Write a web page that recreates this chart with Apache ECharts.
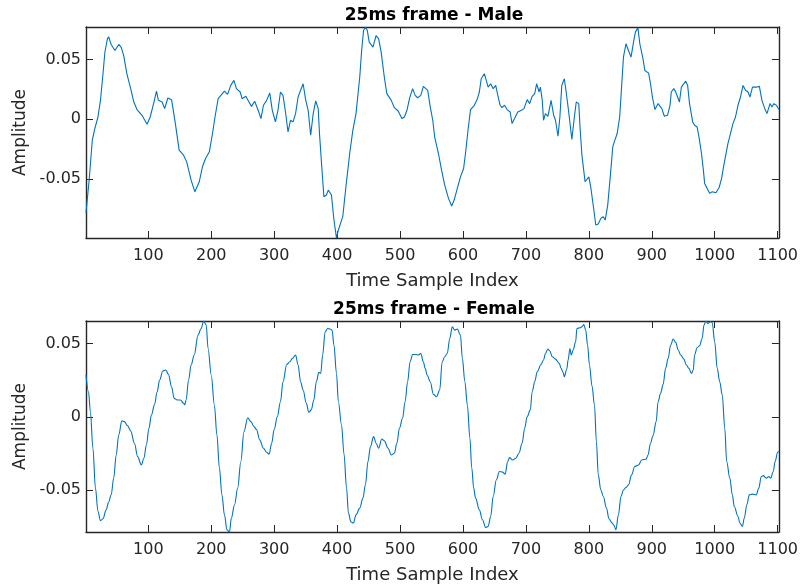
<!DOCTYPE html>
<html>
<head>
<meta charset="utf-8">
<title>25ms frames</title>
<script src="https://cdn.jsdelivr.net/npm/echarts@6/dist/echarts.min.js"></script>
<style>
  html, body { margin: 0; padding: 0; background: #ffffff; }
  #chart { width: 801px; height: 586px; }
</style>
</head>
<body>
<div id="chart"></div>
<script>
// Male frame: sample index / amplitude
const maleIdx = [
  1, 6, 11, 15, 20, 24, 28, 31, 35, 37,
  41, 47, 53, 57, 61, 66, 72, 77, 82, 90,
  98, 103, 109, 113, 116, 122, 126, 131, 137, 143,
  149, 156, 161, 168, 174, 181, 186, 191, 197, 202,
  206, 211, 221, 226, 231, 236, 240, 246, 249, 255,
  260, 264, 269, 275, 279, 283, 288, 293, 297, 302,
  306, 310, 314, 318, 322, 326, 330, 334, 338, 342,
  346, 350, 354, 358, 362, 366, 370, 372, 376, 379,
  383, 386, 391, 395, 399, 402, 409, 414, 420, 425,
  430, 436, 439, 442, 445, 448, 451, 457, 462, 466,
  470, 475, 479, 486, 491, 497, 503, 507, 511, 515,
  520, 524, 528, 533, 537, 540, 544, 548, 552, 555,
  561, 566, 571, 577, 582, 586, 591, 596, 601, 604,
  608, 612, 618, 623, 626, 629, 634, 640, 644, 648,
  652, 656, 659, 662, 666, 670, 675, 678, 682, 687,
  693, 697, 702, 706, 710, 714, 717, 721, 723, 726,
  728, 731, 735, 740, 744, 747, 751, 754, 757, 761,
  764, 768, 773, 777, 780, 784, 786, 789, 794, 800,
  803, 808, 811, 815, 819, 823, 826, 830, 834, 838,
  841, 845, 849, 852, 855, 859, 863, 867, 871, 874,
  878, 881, 886, 889, 895, 898, 901, 905, 910, 916,
  920, 925, 929, 931, 935, 938, 944, 947, 950, 954,
  957, 960, 965, 968, 972, 975, 979, 982, 984, 988,
  992, 996, 1002, 1007, 1011, 1014, 1017, 1021, 1025, 1029,
  1033, 1037, 1041, 1045, 1049, 1053, 1056, 1060, 1063, 1067,
  1071, 1075, 1079, 1083, 1088, 1091, 1094, 1098, 1102
];
const maleAmp = [
  -0.078, -0.051, -0.0175, -0.0078, 0.0019, 0.0158, 0.038, 0.056, 0.0672, 0.069,
  0.0625, 0.0575, 0.0625, 0.060, 0.053, 0.038, 0.0256, 0.0144, 0.0081, 0.0033,
  -0.0042, 0.0019, 0.0144, 0.0236, 0.0158, 0.0144, 0.0089, 0.0178, 0.0164, -0.0036,
  -0.0258, -0.030, -0.0356, -0.0508, -0.0606, -0.0522, -0.0397, -0.0328, -0.0272, -0.0119,
  0.0019, 0.0172, 0.0236, 0.0208, 0.0283, 0.0325, 0.0256, 0.0228, 0.0172, 0.0192,
  0.0144, 0.0108, 0.0150, 0.0069, 0.0006, 0.0117, 0.0158, 0.0219, 0.0075, -0.0022,
  0.0075, 0.0228, 0.0200, 0.0061, -0.0106, -0.0008, -0.0022, 0.0047, 0.0186, 0.0242,
  0.0297, 0.0164, 0.0075, -0.0133, 0.0047, 0.0153, 0.0089, -0.0119, -0.0425, -0.0647,
  -0.0633, -0.0592, -0.0633, -0.0842, -0.0992, -0.0925, -0.0814, -0.0564, -0.0286, -0.0092,
  0.0047, 0.0353, 0.0575, 0.0742, 0.0771, 0.0742, 0.0644, 0.0603, 0.070, 0.0672,
  0.0561, 0.0353, 0.0214, 0.0158, 0.0097, 0.0069, 0.0006, 0.0019, 0.0075, 0.0172,
  0.0256, 0.0200, 0.018, 0.0200, 0.0275, 0.0283, 0.0242, 0.0103, -0.0008, -0.0147,
  -0.0286, -0.0425, -0.055, -0.0661, -0.0725, -0.0675, -0.0578, -0.0481, -0.0411, -0.0286,
  -0.0092, 0.0081, 0.0117, 0.0172, 0.0228, 0.0339, 0.0381, 0.0269, 0.0297, 0.0256,
  0.0283, 0.0186, 0.0117, 0.0097, 0.0117, 0.0081, 0.0061, -0.0036, 0.0006, 0.0061,
  0.0075, 0.0089, 0.0164, 0.0131, 0.0192, 0.0214, 0.0297, 0.0228, 0.0269, 0.0158,
  -0.0008, 0.0047, 0.0025, 0.0158, 0.0036, -0.0008, -0.0142, 0.0019, 0.0283, 0.0339,
  0.0228, 0.0061, -0.0169, 0.0019, 0.0144, 0.0131, -0.0064, -0.030, -0.0522, -0.0481,
  -0.0564, -0.076, -0.0883, -0.0875, -0.0828, -0.0814, -0.0842, -0.0717, -0.0481, -0.0231,
  -0.0181, -0.0119, 0.0019, 0.0269, 0.0519, 0.0631, 0.0575, 0.0519, 0.0644, 0.0728,
  0.0764, 0.0631, 0.0506, 0.0408, 0.0386, 0.0297, 0.0186, 0.0081, 0.0131, 0.0089,
  0.0025, 0.0033, 0.0117, 0.0228, 0.0256, 0.0228, 0.0144, 0.0269, 0.0283, 0.0319,
  0.0283, 0.0131, -0.0022, -0.005, -0.0064, -0.0147, -0.0286, -0.0425, -0.0536, -0.0578,
  -0.0619, -0.0606, -0.0614, -0.057, -0.0494, -0.0397, -0.0314, -0.0203, -0.0119, -0.0036,
  0.0019, 0.0117, 0.0186, 0.0283, 0.0242, 0.0228, 0.0186, 0.0269, 0.0256, 0.0269,
  0.0275, 0.0158, 0.0097, 0.0047, 0.0131, 0.0103, 0.0131, 0.0117, 0.0081
];

// Female frame: sample index / amplitude
const femaleIdx = [
  1, 5, 8, 12, 16, 20, 24, 28, 33, 37,
  41, 45, 49, 53, 58, 62, 67, 72, 78, 83,
  89, 93, 97, 101, 105, 110, 114, 118, 123, 128,
  132, 137, 141, 146, 151, 156, 158, 160, 164, 168,
  173, 179, 184, 188, 192, 195, 200, 205, 209, 213,
  217, 221, 225, 229, 232, 237, 242, 247, 252, 258,
  263, 268, 272, 277, 283, 288, 292, 296, 300, 305,
  310, 314, 320, 325, 329, 334, 338, 342, 346, 351,
  355, 359, 363, 367, 371, 374, 377, 381, 385, 389,
  392, 395, 399, 402, 407, 411, 415, 418, 422, 426,
  430, 436, 441, 445, 449, 453, 458, 462, 466, 471,
  475, 481, 486, 491, 495, 499, 504, 508, 512, 516,
  520, 525, 529, 533, 537, 540, 543, 548, 553, 558,
  563, 567, 571, 575, 579, 583, 587, 591, 596, 599,
  603, 607, 611, 614, 617, 620, 626, 631, 636, 640,
  644, 648, 653, 658, 663, 667, 671, 674, 679, 684,
  689, 694, 698, 702, 707, 710, 714, 718, 724, 728,
  731, 735, 738, 742, 747, 753, 756, 759, 761, 765,
  767, 770, 772, 775, 779, 781, 786, 789, 792, 795,
  798, 801, 805, 809, 812, 815, 819, 823, 828, 832,
  837, 840, 843, 847, 851, 855, 859, 863, 868, 873,
  879, 884, 891, 894, 898, 902, 907, 910, 914, 918,
  922, 926, 930, 934, 938, 942, 946, 951, 955, 959,
  963, 966, 968, 972, 976, 980, 983, 986, 989, 993,
  996, 1000, 1004, 1008, 1012, 1016, 1019, 1024, 1028, 1031,
  1037, 1040, 1044, 1047, 1051, 1055, 1060, 1066, 1070, 1074,
  1077, 1082, 1086, 1089, 1093, 1096, 1100, 1102
];
const femaleAmp = [
  0.0286, 0.0172, 0.0036, -0.0213, -0.0485, -0.0644, -0.0707, -0.0694, -0.0633, -0.058,
  -0.0531, -0.0417, -0.0259, -0.0122, -0.0027, -0.0032, -0.0059, -0.0095, -0.0179, -0.027,
  -0.0327, -0.0281, -0.019, -0.0077, 0.0014, 0.0086, 0.0172, 0.0252, 0.0313, 0.032,
  0.029, 0.0206, 0.0127, 0.0116, 0.0116, 0.0093, 0.0082, 0.0116, 0.0252, 0.0354,
  0.0422, 0.0558, 0.0603, 0.0654, 0.0626, 0.0467, 0.0286, 0.0082, -0.0122, -0.0349,
  -0.0531, -0.0667, -0.0769, -0.0784, -0.0689, -0.0599, -0.0485, -0.0304, -0.01, -0.0005,
  -0.0032, -0.0066, -0.0086, -0.0156, -0.0213, -0.024, -0.0254, -0.0179, -0.0086, 0.0002,
  0.0104, 0.024, 0.0358, 0.0376, 0.0399, 0.0422, 0.0354, 0.024, 0.0184, 0.0095,
  0.0032, 0.0048, 0.0116, 0.024, 0.0304, 0.0297, 0.0422, 0.058, 0.0603, 0.0599,
  0.0592, 0.049, 0.0297, 0.0104, -0.0054, -0.0254, -0.0485, -0.0655, -0.0716, -0.0723,
  -0.0667, -0.0621, -0.0553, -0.0463, -0.0304, -0.0202, -0.0134, -0.0179, -0.0213, -0.015,
  -0.0163, -0.0213, -0.0259, -0.0247, -0.0179, -0.0077, -0.0009, 0.0104, 0.024, 0.0376,
  0.0426, 0.0426, 0.0422, 0.0433, 0.0376, 0.0331, 0.0286, 0.024, 0.0154, 0.0138,
  0.0184, 0.0376, 0.041, 0.0433, 0.0535, 0.0614, 0.0592, 0.0599, 0.0558, 0.0399,
  0.024, 0.0082, -0.0145, -0.0349, -0.0485, -0.0553, -0.0633, -0.0701, -0.0753, -0.0746,
  -0.0678, -0.0542, -0.0429, -0.0372, -0.0376, -0.039, -0.0304, -0.0277, -0.0293, -0.0281,
  -0.0247, -0.0179, -0.0077, 0.0002, 0.0048, 0.0172, 0.024, 0.0308, 0.0358, 0.0388,
  0.0433, 0.0463, 0.045, 0.041, 0.0394, 0.0365, 0.0331, 0.0304, 0.0274, 0.0327,
  0.0388, 0.0467, 0.0422, 0.0456, 0.0512, 0.0603, 0.0608, 0.0614, 0.063, 0.0592,
  0.049, 0.0354, 0.0212, 0.008, -0.0168, -0.0395, -0.0497, -0.0542, -0.0621, -0.0694,
  -0.0723, -0.0739, -0.0769, -0.0667, -0.0542, -0.0497, -0.0481, -0.0463, -0.0395, -0.0338,
  -0.0327, -0.0293, -0.0288, -0.0259, -0.0179, -0.0127, -0.0032, 0.0104, 0.0161, 0.0222,
  0.0331, 0.0399, 0.049, 0.0531, 0.0508, 0.0456, 0.0422, 0.0394, 0.0354, 0.0331,
  0.0297, 0.032, 0.0422, 0.0472, 0.0485, 0.0535, 0.0626, 0.0654, 0.0637, 0.0649,
  0.0644, 0.0512, 0.0331, 0.024, 0.015, -0.0077, -0.0304, -0.0417, -0.0531, -0.061,
  -0.0678, -0.0723, -0.0746, -0.0689, -0.0599, -0.0531, -0.0526, -0.0531, -0.0485, -0.0406,
  -0.04, -0.0417, -0.0406, -0.0417, -0.0372, -0.0304, -0.024, -0.0235
];

// Tick positions and text
const xTicks = [100, 200, 300, 400, 500, 600, 700, 800, 900, 1000, 1100];
const yTicks = [-0.05, 0, 0.05];
const panelTitles = ['25ms frame - Male', '25ms frame - Female'];
const xLabel = 'Time Sample Index';
const yLabel = 'Amplitude';

const FONT = 'DejaVu Sans';
const INK = '#262626';
const LINE = '#0072BD';

const pairs = (xs, ys) => xs.map((x, i) => [x, ys[i]]);
const fmt = v => String(v);

// Tight limits, as with "axis tight"
function limits(xs, ys) {
  return {
    xMin: Math.min(...xs), xMax: Math.max(...xs),
    yMin: Math.min(...ys), yMax: Math.max(...ys)
  };
}

function xAxisFor(gridIndex, position, lim, withText) {
  return {
    type: 'value', gridIndex, position,
    min: lim.xMin, max: lim.xMax,
    splitLine: { show: false },
    axisLine: { show: true, onZero: false, lineStyle: { color: INK, width: 1.4 } },
    axisTick: { show: true, inside: true, length: 7, customValues: xTicks,
                lineStyle: { color: INK, width: 1 } },
    axisLabel: { show: withText, customValues: xTicks, formatter: fmt, margin: 10,
                 color: INK, fontFamily: FONT, fontSize: 16 },
    name: withText ? xLabel : '',
    nameLocation: 'middle', nameGap: 34,
    nameTextStyle: { color: INK, fontFamily: FONT, fontSize: 18 }
  };
}

function yAxisFor(gridIndex, position, lim, withText) {
  return {
    type: 'value', gridIndex, position,
    min: lim.yMin, max: lim.yMax,
    splitLine: { show: false },
    axisLine: { show: true, onZero: false, lineStyle: { color: INK, width: 1.4 } },
    axisTick: { show: true, inside: true, length: 7, customValues: yTicks,
                lineStyle: { color: INK, width: 1 } },
    axisLabel: { show: withText, customValues: yTicks, formatter: fmt, margin: 5,
                 color: INK, fontFamily: FONT, fontSize: 16 },
    name: withText ? yLabel : '',
    nameLocation: 'middle', nameGap: 57,
    nameTextStyle: { color: INK, fontFamily: FONT, fontSize: 17 }
  };
}

const maleLim = limits(maleIdx, maleAmp);
const femaleLim = limits(femaleIdx, femaleAmp);

const grids = [
  { left: 86, top: 27, width: 696, height: 211 },
  { left: 86, top: 321, width: 696, height: 211 }
];

const titleStyle = { fontFamily: FONT, fontWeight: 'bold', fontSize: 17, color: '#000000' };

const option = {
  animation: false,
  backgroundColor: '#ffffff',
  title: [
    { text: panelTitles[0], left: 434, top: 7, textAlign: 'center', padding: 0, textStyle: titleStyle },
    { text: panelTitles[1], left: 434, top: 301, textAlign: 'center', padding: 0, textStyle: titleStyle }
  ],
  grid: grids,
  xAxis: [
    xAxisFor(0, 'bottom', maleLim, true),
    xAxisFor(0, 'top', maleLim, false),
    xAxisFor(1, 'bottom', femaleLim, true),
    xAxisFor(1, 'top', femaleLim, false)
  ],
  yAxis: [
    yAxisFor(0, 'left', maleLim, true),
    yAxisFor(0, 'right', maleLim, false),
    yAxisFor(1, 'left', femaleLim, true),
    yAxisFor(1, 'right', femaleLim, false)
  ],
  series: [
    {
      // voiced male frame: jagged, drawn as straight segments
      type: 'line', xAxisIndex: 0, yAxisIndex: 0,
      data: pairs(maleIdx, maleAmp),
      showSymbol: false, symbol: 'none', clip: true,
      lineStyle: { color: LINE, width: 1.1 }
    },
    {
      // female frame: smoother waveform
      type: 'line', xAxisIndex: 2, yAxisIndex: 2,
      data: pairs(femaleIdx, femaleAmp),
      showSymbol: false, symbol: 'none', clip: true,
      smooth: 0.35, smoothMonotone: 'x',
      lineStyle: { color: LINE, width: 1.1 }
    }
  ]
};

const chart = echarts.init(document.getElementById('chart'), null, { renderer: 'canvas' });
chart.setOption(option);
</script>
</body>
</html>
